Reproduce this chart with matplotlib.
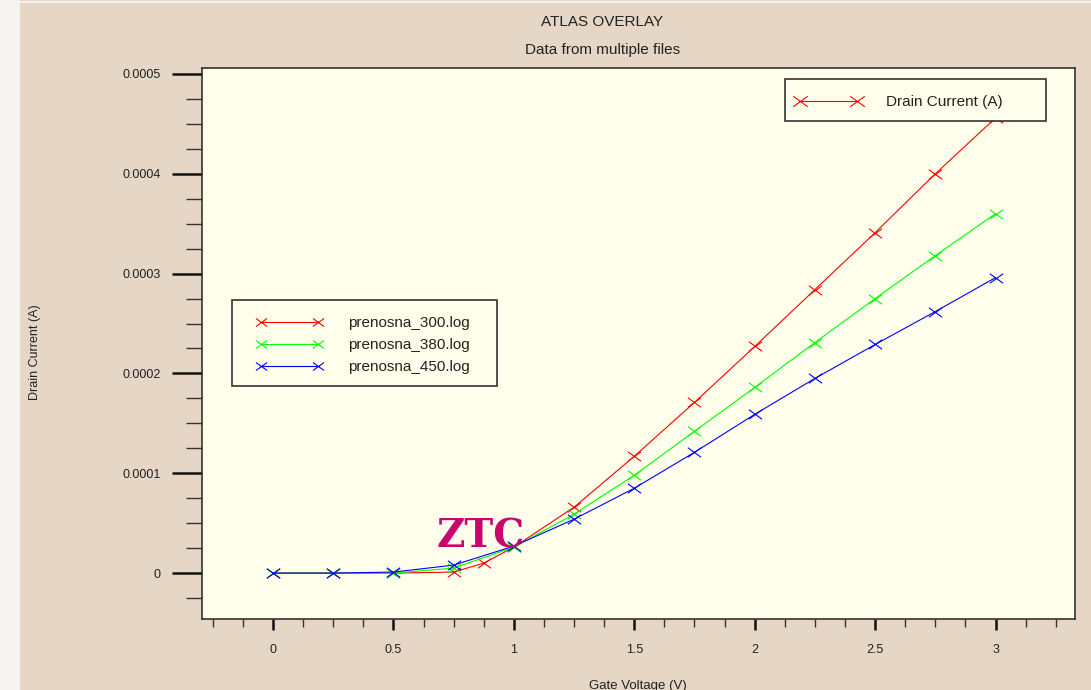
import numpy as np
import matplotlib
matplotlib.use("Agg")
import matplotlib.pyplot as plt
from matplotlib.path import Path
from matplotlib.patches import Rectangle
from matplotlib.lines import Line2D
from matplotlib.ticker import MultipleLocator, FuncFormatter

plt.rcParams['font.family'] = ['Liberation Sans', 'DejaVu Sans']

# transfer characteristics, one log file per temperature
vg_300 = [0.0, 0.25, 0.5, 0.75, 0.875, 1.0, 1.25, 1.5, 1.75, 2.0, 2.25, 2.5, 2.75, 3.0]
id_300 = [0.0, 0.0, 0.0, 0.01e-4, 0.10e-4, 0.26e-4, 0.66e-4, 1.17e-4, 1.71e-4,
          2.27e-4, 2.84e-4, 3.41e-4, 4.00e-4, 4.56e-4]

vg_380 = [0.0, 0.25, 0.5, 0.75, 1.0, 1.25, 1.5, 1.75, 2.0, 2.25, 2.5, 2.75, 3.0]
id_380 = [0.0, 0.0, 0.0, 0.05e-4, 0.26e-4, 0.59e-4, 0.98e-4, 1.42e-4, 1.86e-4,
          2.31e-4, 2.75e-4, 3.18e-4, 3.60e-4]

vg_450 = [0.0, 0.25, 0.5, 0.75, 1.0, 1.25, 1.5, 1.75, 2.0, 2.25, 2.5, 2.75, 3.0]
id_450 = [0.0, 0.0, 0.01e-4, 0.08e-4, 0.27e-4, 0.54e-4, 0.85e-4, 1.21e-4, 1.59e-4,
          1.95e-4, 2.29e-4, 2.62e-4, 2.96e-4]

series_names = ['prenosna_300.log', 'prenosna_380.log', 'prenosna_450.log']
series_colors = ['#ff0000', '#00ff00', '#0000ff']

W, H = 1091, 690
BEIGE = '#e5d6c5'
FACE = '#ffffeb'
EDGE = '#333333'

# flattened x marker, wider than tall
cross = Path([(-1.0, -0.72), (1.0, 0.72), (-1.0, 0.72), (1.0, -0.72)],
             [Path.MOVETO, Path.LINETO, Path.MOVETO, Path.LINETO])


def fx(x):
    return x / W


def fy(y):
    return 1 - y / H


fig = plt.figure(figsize=(W / 100, H / 100), dpi=100, facecolor=BEIGE)
fig.add_artist(Rectangle((0, 0), fx(20), 1, transform=fig.transFigure,
                         facecolor='#f5f4f0', edgecolor='none'))
fig.add_artist(Rectangle((0, fy(3)), 1, fx(3), transform=fig.transFigure,
                         facecolor='#f5f4f0', edgecolor='none'))

ax = fig.add_axes([fx(202), fy(619), fx(1075 - 202), (619 - 68) / H])
ax.set_facecolor(FACE)

curves = [(vg_300, id_300), (vg_380, id_380), (vg_450, id_450)]
for (vg, cur), col in zip(curves, series_colors):
    ax.plot(vg, cur, color=col, lw=0.8, marker=cross, ms=9.5, mew=0.8,
            mec=col, mfc='none')

ax.set_xlim(-0.295, 3.33)
ax.set_ylim(-0.000046, 0.000506)

ax.xaxis.set_major_locator(MultipleLocator(0.5))
ax.xaxis.set_minor_locator(MultipleLocator(0.125))
ax.yaxis.set_major_locator(MultipleLocator(0.0001))
ax.yaxis.set_minor_locator(MultipleLocator(0.000025))
ax.xaxis.set_major_formatter(FuncFormatter(lambda v, p: '%g' % round(v, 3)))
ax.yaxis.set_major_formatter(FuncFormatter(lambda v, p: '0' if abs(v) < 1e-9 else '%.4f' % v))

ax.tick_params(axis='y', which='major', direction='out', length=21.6, width=1.8,
               color='#111111', pad=8, labelsize=9, labelcolor='#222222')
ax.tick_params(axis='y', which='minor', direction='out', length=11.5, width=1.0,
               color='#333333')
ax.tick_params(axis='x', which='major', direction='out', length=8, width=1.8,
               color='#111111', pad=10, labelsize=9, labelcolor='#222222')
ax.tick_params(axis='x', which='minor', direction='out', length=5.8, width=1.0,
               color='#333333')
for s in ax.spines.values():
    s.set_color(EDGE)
    s.set_linewidth(1.2)

fig.text(fx(602), fy(22), 'ATLAS OVERLAY', ha='center', va='center',
         fontsize=11, color='#222222')
fig.text(fx(603), fy(50), 'Data from multiple files', ha='center', va='center',
         fontsize=11, color='#222222')
fig.text(fx(35), fy(352), 'Drain Current (A)', rotation=90, ha='center',
         va='center', fontsize=9, color='#222222')
fig.text(fx(638), fy(686), 'Gate Voltage (V)', ha='center', va='center',
         fontsize=9.5, color='#222222')

fig.text(fx(481), fy(537), 'ZTC', ha='center', va='center', fontsize=28,
         fontweight='bold', family='DejaVu Serif', color='#c8066e')


def key_box(x0, y0, x1, y1, rows, line_x0, line_x1, text_x):
    fig.add_artist(Rectangle((fx(x0), fy(y1)), fx(x1 - x0), (y1 - y0) / H,
                             transform=fig.transFigure, facecolor=FACE,
                             edgecolor=EDGE, lw=1.2, zorder=5))
    for y, label, col, ms in rows:
        fig.add_artist(Line2D([fx(line_x0), fx(line_x1)], [fy(y), fy(y)],
                              transform=fig.transFigure, color=col, lw=0.8,
                              marker=cross, ms=ms, mew=0.8, zorder=6))
        fig.text(fx(text_x), fy(y + 1), label, ha='left', va='center',
                 fontsize=11, color='#222222', zorder=6)


key_box(785, 79, 1046, 121, [(101, 'Drain Current (A)', '#ff0000', 10.5)],
        800, 857, 886)
key_box(232, 300, 497, 386,
        [(322, series_names[0], series_colors[0], 8),
         (344, series_names[1], series_colors[1], 8),
         (366, series_names[2], series_colors[2], 8)],
        261, 318, 348)

fig.savefig('out.png', dpi=100, facecolor=BEIGE)
